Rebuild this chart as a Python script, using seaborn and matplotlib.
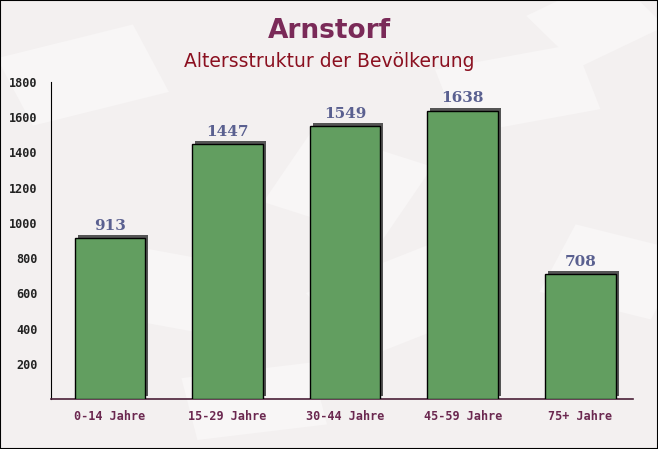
import matplotlib
matplotlib.use("Agg")
import matplotlib.pyplot as plt
import matplotlib.transforms as mtransforms
from matplotlib.patches import Rectangle
from matplotlib.ticker import MultipleLocator
import seaborn as sns
import pandas as pd

# data
categories = ["0-14 Jahre", "15-29 Jahre", "30-44 Jahre", "45-59 Jahre", "75+ Jahre"]
values = [913, 1447, 1549, 1638, 708]
title = "Arnstorf"
subtitle = "Altersstruktur der Bevölkerung"

df = pd.DataFrame({"group": categories, "count": values})

sns.set_style("white")
fig = plt.figure(figsize=(6.58, 4.49), dpi=100, facecolor="#f3f0f0")

# faint paper-like shapes in the background, on their own axes behind everything
bg_ax = fig.add_axes([0, 0, 1, 1], zorder=-10)
bg_ax.set_axis_off()
bg_ax.set_xlim(0, 1)
bg_ax.set_ylim(0, 1)
bg = [(0.05, 0.72, 0.22, 0.16, 20), (0.40, 0.55, 0.20, 0.18, -25), (0.70, 0.70, 0.22, 0.15, 15),
      (0.15, 0.30, 0.20, 0.16, -15), (0.55, 0.20, 0.22, 0.17, 30), (0.82, 0.35, 0.18, 0.16, -20),
      (0.30, 0.02, 0.20, 0.14, 10), (0.88, 0.85, 0.16, 0.14, 35)]
for x0, y0, w, h, ang in bg:
    bg_ax.add_patch(Rectangle((x0, y0), w, h, angle=ang, facecolor="#f8f6f6",
                              edgecolor="none"))

ax = fig.add_axes([0.0775, 0.1114, 0.885, 0.7060])
ax.set_facecolor("none")

sns.barplot(data=df, x="group", y="count", color="#629e60", width=0.6,
            edgecolor="black", linewidth=1.0, saturation=1, ax=ax, zorder=3)

# drop shadow behind each bar
shift = mtransforms.ScaledTranslation(3 / 100, 3 / 100, fig.dpi_scale_trans)
for p in list(ax.patches):
    sh = Rectangle((p.get_x(), p.get_y()), p.get_width(), p.get_height(),
                   facecolor="#555555", edgecolor="none",
                   transform=ax.transData + shift, zorder=2)
    ax.add_patch(sh)

for i, v in enumerate(values):
    ax.text(i, v + 32, str(v), ha="center", va="bottom", fontsize=11,
            fontweight="bold", color="#5a6090", family="DejaVu Serif", zorder=4)

ax.set_xlim(-0.5, 4.45)
ax.set_ylim(0, 1800)
ax.set_yticks(range(200, 1801, 200))
ax.yaxis.set_minor_locator(MultipleLocator(100))
ax.tick_params(axis="y", which="major", length=6, width=1, direction="out", color="black")
ax.tick_params(axis="y", which="minor", length=3, width=1, direction="out", color="black")
ax.tick_params(axis="x", length=0, pad=8)
ax.set_xlabel("")
ax.set_ylabel("")
for lab in ax.get_yticklabels():
    lab.set_family("DejaVu Sans Mono")
    lab.set_fontweight("bold")
    lab.set_fontsize(8.5)
    lab.set_color("#222222")
for lab in ax.get_xticklabels():
    lab.set_family("DejaVu Sans Mono")
    lab.set_fontweight("bold")
    lab.set_fontsize(8.5)
    lab.set_color("#6b2850")

for s in ["top", "right"]:
    ax.spines[s].set_visible(False)
ax.spines["left"].set_color("black")
ax.spines["bottom"].set_color("#4a2038")
ax.spines["bottom"].set_linewidth(1.2)

fig.text(0.5, 0.932, title, ha="center", va="center", fontsize=19,
         fontweight="bold", color="#7a2a58")
fig.text(0.5, 0.862, subtitle, ha="center", va="center", fontsize=13.5,
         color="#8b1020")

# thin frame around the figure
fig.patches.append(Rectangle((0, 0), 1, 1, transform=fig.transFigure,
                             fill=False, edgecolor="black", linewidth=1.5))

fig.savefig("out.png", dpi=100, facecolor=fig.get_facecolor())
